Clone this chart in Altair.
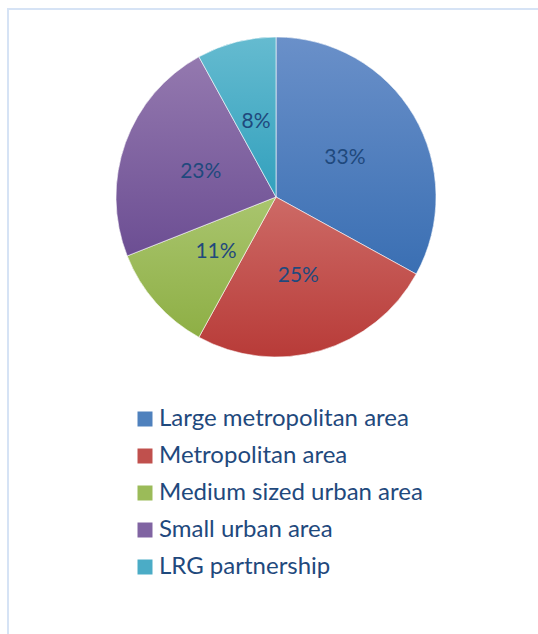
import altair as alt
import pandas as pd

categories = ["Large metropolitan area", "Metropolitan area", "Medium sized urban area",
              "Small urban area", "LRG partnership"]
values = [33, 25, 11, 23, 8]
labels = ["33%", "25%", "11%", "23%", "8%"]
colors = ["#4F81BD", "#C0504D", "#9BBB59", "#8064A2", "#4BACC6"]
tops = ["#6A90C9", "#CD6A66", "#A9C56E", "#9479AF", "#65BBD0"]
bottoms = ["#3A6FB3", "#B83B38", "#8EAF45", "#6C4E93", "#32A0BD"]

df = pd.DataFrame({"category": categories, "value": values, "label": labels,
                   "order": list(range(len(categories)))})

TEXT = "#1F497D"
FONT = "Lato"
TOTAL = sum(values)

base = alt.Chart(df).encode(
    theta=alt.Theta("value:Q", stack=True),
    order=alt.Order("order:Q"),
    x=alt.value(276), y=alt.value(197),
)

pie = base.mark_arc(outerRadius=160, stroke="white", strokeWidth=0.6).encode(
    color=alt.Color("category:N",
                    scale=alt.Scale(domain=categories, range=colors),
                    sort=categories,
                    legend=alt.Legend(orient="none", legendX=133, legendY=407,
                                      title=None, symbolType="square", symbolSize=225,
                                      symbolStrokeWidth=0, labelFontSize=24,
                                      labelFont=FONT, labelColor=TEXT, labelOffset=2,
                                      rowPadding=13, padding=0, labelLimit=400))
)

cum = alt.Chart(df).transform_window(
    end="sum(value)", sort=[alt.SortField("order")]
).transform_calculate(start="datum.end - datum.value")

grad_layers = []
for i, cat in enumerate(categories):
    g = alt.Gradient(gradient="linear", x1=0, y1=0, x2=0, y2=1,
                     stops=[alt.GradientStop(color=tops[i], offset=0),
                            alt.GradientStop(color=bottoms[i], offset=1)])
    layer = cum.transform_filter(alt.datum.category == cat).mark_arc(
        outerRadius=160, fill=g, stroke="white", strokeWidth=0.6
    ).encode(
        theta=alt.Theta("start:Q", scale=alt.Scale(domain=[0, TOTAL])),
        theta2="end:Q",
        x=alt.value(276), y=alt.value(197),
    )
    grad_layers.append(layer)

text = base.mark_text(radius=80, font=FONT, fontSize=21,
                      color=TEXT, dy=2).encode(text="label:N")

border = alt.Chart(df).mark_rect(fill=None, stroke="#D6E3F5", strokeWidth=2).encode(
    x=alt.value(8), x2=alt.value(600), y=alt.value(9), y2=alt.value(700)
)

chart = alt.layer(border, pie, *grad_layers, text).properties(
    width=538, height=634, padding=0, autosize=alt.AutoSizeParams(type="none"),
    background="white"
).resolve_scale(theta="independent").configure_view(stroke=None)

chart.save("out.html", embed_options={"renderer": "svg", "actions": False})
